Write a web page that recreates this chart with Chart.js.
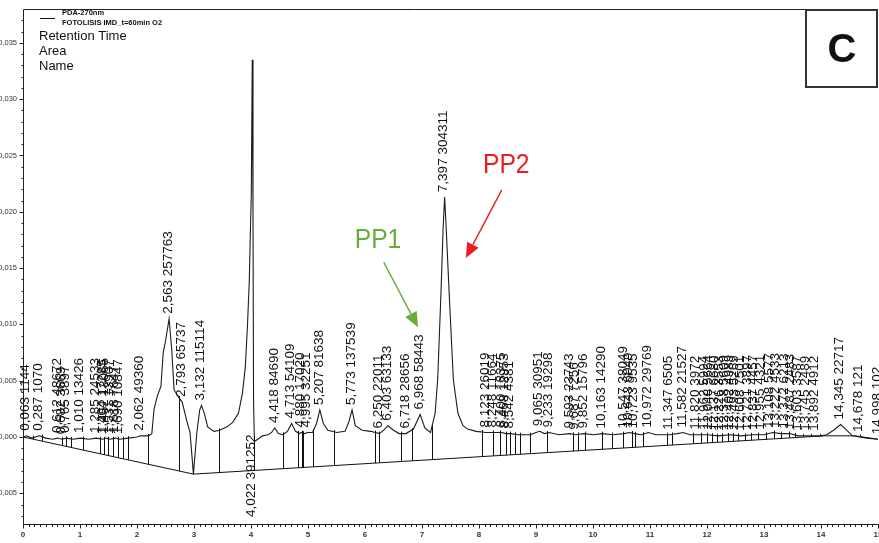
<!DOCTYPE html>
<html>
<head>
<meta charset="utf-8">
<script src="https://cdn.jsdelivr.net/npm/chart.js@4.4.0/dist/chart.umd.min.js"></script>
<style>
    html, body { margin: 0; padding: 0; background: #fff; }
    #wrap { width: 879px; height: 543px; }
</style>
</head>
<body>
<div id="wrap"><canvas id="cromChart" width="879" height="543"></canvas></div>
<script>
// ========== Datos del cromatograma ==========
// tiempo de retención (min) y absorbancia (AU) del trazo PDA-270nm
const traceTime = [
    0.000, 0.063, 0.150, 0.287, 0.400, 0.520, 0.612, 0.682, 0.765, 0.880,
    1.010, 1.150, 1.285, 1.404, 1.452, 1.531, 1.618, 1.690, 1.850, 2.000,
    2.062, 2.200, 2.260, 2.300, 2.360, 2.420, 2.460, 2.500, 2.563, 2.610,
    2.650, 2.720, 2.793, 2.870, 2.930, 2.990, 3.050, 3.100, 3.132, 3.180,
    3.240, 3.350, 3.450, 3.580, 3.680, 3.780, 3.850, 3.900, 3.940, 3.970,
    3.990, 4.005, 4.022, 4.035, 4.045, 4.060, 4.120, 4.200, 4.300, 4.360,
    4.418, 4.480, 4.560, 4.640, 4.713, 4.780, 4.850, 4.880, 4.940, 4.995,
    5.080, 5.150, 5.207, 5.270, 5.350, 5.500, 5.650, 5.720, 5.773, 5.830,
    5.950, 6.100, 6.250, 6.330, 6.403, 6.500, 6.600, 6.718, 6.850, 6.968,
    7.050, 7.150, 7.230, 7.275, 7.330, 7.370, 7.397, 7.425, 7.480, 7.550,
    7.630, 7.720, 7.800, 7.950, 8.123, 8.248, 8.400, 8.468, 8.542, 8.700,
    8.900, 9.000, 9.065, 9.150, 9.233, 9.400, 9.593, 9.687, 9.852, 10.000,
    10.163, 10.350, 10.547, 10.643, 10.723, 10.850, 10.972, 11.100, 11.347, 11.480,
    11.582, 11.700, 11.820, 12.000, 12.200, 12.400, 12.600, 12.800, 13.000, 13.150,
    13.300, 13.450, 13.600, 13.800, 14.000, 14.100, 14.220, 14.345, 14.450, 14.550,
    14.678, 14.800, 14.998, 15.000
];
const traceAbs = [
    0.0000, 0.0001, -0.0001, 0.0001, -0.0001, -0.0002, -0.0001, -0.0002, -0.0001, -0.0002,
    -0.0001, -0.0002, -0.0001, -0.0002, -0.0001, -0.0002, -0.0001, -0.0002, -0.0001, 0.0000,
    0.0001, 0.0001, 0.0003, 0.0025, 0.0037, 0.0045, 0.0075, 0.0085, 0.0105, 0.0077,
    0.0042, 0.0036, 0.0031, 0.0015, 0.0004, -0.0033, 0.0004, 0.0024, 0.0028, 0.0021,
    0.0009, 0.0005, 0.0006, 0.0009, 0.0013, 0.0021, 0.0039, 0.0062, 0.0101, 0.0139,
    0.0184, 0.0215, 0.0335, 0.0200, 0.0030, -0.0004, -0.0002, 0.0001, 0.0002, 0.0004,
    0.0008, 0.0003, 0.0002, 0.0005, 0.0012, 0.0005, 0.0003, 0.0004, 0.0003, 0.0004,
    0.0004, 0.0012, 0.0024, 0.0012, 0.0006, 0.0004, 0.0005, 0.0014, 0.0024, 0.0010,
    0.0006, 0.0005, 0.0003, 0.0006, 0.0010, 0.0006, 0.0003, 0.0003, 0.0007, 0.0020,
    0.0008, 0.0004, 0.0021, 0.0051, 0.0124, 0.0185, 0.0213, 0.0185, 0.0124, 0.0051,
    0.0021, 0.0010, 0.0007, 0.0005, 0.0004, 0.0004, 0.0004, 0.0003, 0.0003, 0.0002,
    0.0002, 0.0004, 0.0005, 0.0003, 0.0004, 0.0002, 0.0003, 0.0002, 0.0003, 0.0002,
    0.0003, 0.0002, 0.0003, 0.0004, 0.0003, 0.0002, 0.0004, 0.0002, 0.0002, 0.0003,
    0.0004, 0.0002, 0.0002, 0.0002, 0.0001, 0.0002, 0.0001, 0.0002, 0.0002, 0.0004,
    0.0003, 0.0003, 0.0001, 0.0001, 0.0001, 0.0002, 0.0006, 0.0011, 0.0006, 0.0001,
    0.0000, -0.0001, -0.0002, -0.0002
];

// línea base de integración
const baseTime = [0, 2.99, 14.05, 14.6, 15];
const baseAbs = [0.0000, -0.0033, 0.0001, 0.0001, -0.0002];

// límites de integración (líneas verticales)
const dropTimes = [
    0.17, 0.33, 0.68, 0.75, 0.85, 1.06, 1.35, 1.42, 1.49, 1.58, 1.67, 1.75, 1.84,
    2.19, 2.74, 2.99, 3.43, 4.06, 4.57, 4.83, 4.89, 4.92, 5.09, 5.46, 6.18, 6.25,
    6.63, 6.82, 7.17, 8.05, 8.24, 8.36, 8.47, 8.54, 8.63, 8.72, 8.89, 9.19, 9.65,
    9.74, 9.86, 10.15, 10.33, 10.53, 10.68, 10.74, 10.88, 11.29, 11.38, 11.76, 11.90,
    12.00, 12.09, 12.18, 12.27, 12.36, 12.45, 12.55, 12.66, 12.78, 12.90, 13.03,
    13.17, 13.30, 13.43, 13.55, 13.68, 13.82, 13.98, 14.68
];

// picos: tiempo de retención y área
const peakTimes = [
    0.063, 0.287, 0.612, 0.682, 0.765, 1.010, 1.285, 1.404, 1.452, 1.531, 1.618, 1.690,
    2.062, 2.563, 2.793, 3.132, 4.022, 4.418, 4.713, 4.880, 4.995, 5.207, 5.773, 6.250,
    6.403, 6.718, 6.968, 7.397, 8.123, 8.248, 8.400, 8.468, 8.542, 9.065, 9.233, 9.593,
    9.687, 9.852, 10.163, 10.547, 10.643, 10.723, 10.972, 11.347, 11.582, 11.820, 11.962,
    12.048, 12.137, 12.226, 12.318, 12.402, 12.493, 12.608, 12.721, 12.837, 12.955, 13.108,
    13.222, 13.372, 13.487, 13.603, 13.745, 13.892, 14.345, 14.678, 14.998
];
const peakAreas = [
    1144, 1070, 48672, 3669, 3897, 13426, 24533, 17285, 13065, 13907, 7647, 10847,
    49360, 257763, 65737, 115114, 391252, 84690, 54109, 17020, 32251, 81638, 137539, 22011,
    63133, 28656, 58443, 304311, 26019, 11664, 18375, 12953, 4381, 30951, 19298, 23743,
    7256, 15796, 14290, 38049, 6049, 9535, 29769, 6505, 21527, 3972, 5994,
    5664, 6680, 3553, 5609, 4989, 5269, 7501, 3897, 4457, 4321, 5577,
    4533, 6213, 2483, 3587, 2489, 4912, 22717, 121, 102
];
// pico cuya etiqueta va debajo de la línea base
const peakBelow = [4.022];

// ejes
const xTicks = [0, 1, 2, 3, 4, 5, 6, 7, 8, 9, 10, 11, 12, 13, 14, 15];
const yTicks = [-0.005, 0.000, 0.005, 0.010, 0.015, 0.020, 0.025, 0.030, 0.035];
const X_MIN = 0, X_MAX = 15;
const Y_MIN = -0.00773, Y_MAX = 0.03801;

// flechas de anotación (coordenadas en min / AU)
const notes = [
    { text: 'PP1', color: '#6aac3c', textAt: [5.82, 0.01680], from: [6.33, 0.01550], to: [6.93, 0.00975] },
    { text: 'PP2', color: '#ec1c24', textAt: [8.07, 0.02345], from: [8.40, 0.02195], to: [7.77, 0.01590] }
];

const FONT = '"Liberation Sans", Arial, sans-serif';

/**
 * valor en t interpolando linealmente entre puntos
 */
function valueAt(xs, ys, t) {
    if (t <= xs[0]) return ys[0];
    for (let i = 1; i < xs.length; i++) {
        if (t <= xs[i]) {
            const f = (t - xs[i - 1]) / (xs[i] - xs[i - 1]);
            return ys[i - 1] + f * (ys[i] - ys[i - 1]);
        }
    }
    return ys[ys.length - 1];
}

function fmtComma(v, d) {
    return v.toFixed(d).replace('.', ',');
}

function drawArrow(ctx, x1, y1, x2, y2, color) {
    const ang = Math.atan2(y2 - y1, x2 - x1);
    const len = 15, half = 6.5;
    const bx = x2 - len * Math.cos(ang), by = y2 - len * Math.sin(ang);
    ctx.strokeStyle = color;
    ctx.fillStyle = color;
    ctx.lineWidth = 1.4;
    ctx.beginPath();
    ctx.moveTo(x1, y1);
    ctx.lineTo(bx, by);
    ctx.stroke();
    ctx.beginPath();
    ctx.moveTo(x2, y2);
    ctx.lineTo(bx + half * Math.sin(ang), by - half * Math.cos(ang));
    ctx.lineTo(bx - half * Math.sin(ang), by + half * Math.cos(ang));
    ctx.closePath();
    ctx.fill();
}

// fondo blanco
const bgPlugin = {
    id: 'bg',
    beforeDraw(chart) {
        const ctx = chart.ctx;
        ctx.save();
        ctx.fillStyle = '#fff';
        ctx.fillRect(0, 0, chart.width, chart.height);
        ctx.restore();
    }
};

// ejes, integración, etiquetas y recuadros
const cromPlugin = {
    id: 'crom',
    afterDatasetsDraw(chart) {
        const ctx = chart.ctx;
        const xs = chart.scales.x, ys = chart.scales.y;
        const area = chart.chartArea;
        const L = Math.round(area.left) + 0.5;
        const B = Math.round(area.bottom) + 0.5;
        const T = Math.round(area.top) + 0.5;
        ctx.save();

        // líneas verticales de integración
        ctx.strokeStyle = '#111';
        ctx.lineWidth = 1;
        dropTimes.forEach(t => {
            const px = Math.round(xs.getPixelForValue(t)) + 0.5;
            const yb = ys.getPixelForValue(valueAt(baseTime, baseAbs, t));
            const yt = ys.getPixelForValue(valueAt(traceTime, traceAbs, t));
            ctx.beginPath();
            ctx.moveTo(px, yb);
            ctx.lineTo(px, Math.min(yb, yt) - 2);
            ctx.stroke();
        });

        // marco y ejes
        ctx.strokeStyle = '#222';
        ctx.beginPath();
        ctx.moveTo(L, T);
        ctx.lineTo(L, B);
        ctx.lineTo(area.right + 1, B);
        ctx.moveTo(L, T);
        ctx.lineTo(806, T);
        ctx.stroke();

        // marcas del eje Y
        ctx.beginPath();
        for (let k = -7; k <= 37; k++) {
            const y = Math.round(ys.getPixelForValue(k / 1000)) + 0.5;
            const major = k % 5 === 0;
            ctx.moveTo(L - (major ? 4 : 2), y);
            ctx.lineTo(L, y);
        }
        // marcas del eje X
        for (let k = 0; k <= 150; k++) {
            const x = Math.round(xs.getPixelForValue(k / 10)) + 0.5;
            const major = k % 10 === 0;
            ctx.moveTo(x, B);
            ctx.lineTo(x, B + (major ? 4 : 2.5));
        }
        ctx.stroke();

        ctx.fillStyle = '#333';
        ctx.font = '7.5px ' + FONT;
        ctx.textAlign = 'right';
        ctx.textBaseline = 'middle';
        yTicks.forEach(v => {
            ctx.fillText(fmtComma(v, 3), 17, ys.getPixelForValue(v));
        });
        ctx.font = 'bold 8px ' + FONT;
        ctx.textAlign = 'center';
        xTicks.forEach(v => {
            ctx.fillText(String(v), xs.getPixelForValue(v), 535);
        });

        // etiquetas de picos (tiempo + área), verticales
        ctx.fillStyle = '#111';
        ctx.font = '13.5px ' + FONT;
        ctx.textAlign = 'left';
        ctx.textBaseline = 'middle';
        peakTimes.forEach((t, i) => {
            const label = fmtComma(t, 3) + ' ' + peakAreas[i];
            const px = xs.getPixelForValue(t) - 1;
            let py;
            if (peakBelow.includes(t)) {
                py = area.bottom - 7;
            } else {
                py = ys.getPixelForValue(valueAt(traceTime, traceAbs, t)) - 5;
            }
            ctx.save();
            ctx.translate(px, py);
            ctx.rotate(-Math.PI / 2);
            ctx.fillText(label, 0, 0);
            ctx.restore();
        });

        // leyenda
        ctx.strokeStyle = '#111';
        ctx.beginPath();
        ctx.moveTo(40, 18.5);
        ctx.lineTo(55, 18.5);
        ctx.stroke();
        ctx.fillStyle = '#111';
        ctx.font = 'bold 7.5px ' + FONT;
        ctx.textAlign = 'left';
        ctx.fillText('PDA-270nm', 62, 13);
        ctx.fillText('FOTOLISIS IMD_t=60min O2', 62, 23);
        ctx.font = '13px ' + FONT;
        ctx.fillText('Retention Time', 39, 36);
        ctx.fillText('Area', 39, 51);
        ctx.fillText('Name', 39, 66);

        // recuadro del panel
        ctx.fillStyle = '#fff';
        ctx.fillRect(806, 10, 71, 77);
        ctx.strokeStyle = '#333';
        ctx.lineWidth = 2;
        ctx.strokeRect(806, 10, 71, 77);
        ctx.fillStyle = '#111';
        ctx.font = 'bold 40px ' + FONT;
        ctx.textAlign = 'center';
        ctx.fillText('C', 842, 51);

        // anotaciones PP1 / PP2 (texto algo estrecho y alto)
        notes.forEach(n => {
            ctx.save();
            ctx.translate(xs.getPixelForValue(n.textAt[0]), ys.getPixelForValue(n.textAt[1]));
            ctx.scale(0.88, 1);
            ctx.font = '28px ' + FONT;
            ctx.textAlign = 'left';
            ctx.textBaseline = 'alphabetic';
            ctx.fillStyle = n.color;
            ctx.fillText(n.text, 0, 0);
            ctx.restore();
            drawArrow(ctx,
                xs.getPixelForValue(n.from[0]), ys.getPixelForValue(n.from[1]),
                xs.getPixelForValue(n.to[0]), ys.getPixelForValue(n.to[1]), n.color);
        });

        ctx.restore();
    }
};

/**
 * gráfico principal
 */
function initChart() {
    const ctx = document.getElementById('cromChart').getContext('2d');
    new Chart(ctx, {
        type: 'scatter',
        data: {
            datasets: [
                {
                    label: 'PDA-270nm',
                    data: traceTime.map((t, i) => ({ x: t, y: traceAbs[i] })),
                    showLine: true,
                    borderColor: '#1c1c1c',
                    borderWidth: 1.1,
                    pointRadius: 0,
                    tension: 0
                },
                {
                    label: 'Línea base',
                    data: baseTime.map((t, i) => ({ x: t, y: baseAbs[i] })),
                    showLine: true,
                    borderColor: '#111',
                    borderWidth: 1,
                    pointRadius: 0,
                    tension: 0
                }
            ]
        },
        options: {
            responsive: false,
            animation: false,
            layout: { padding: { left: 23, top: 9, right: 1, bottom: 19 } },
            plugins: {
                legend: { display: false },
                tooltip: { enabled: false }
            },
            scales: {
                x: { type: 'linear', min: X_MIN, max: X_MAX, display: false },
                y: { type: 'linear', min: Y_MIN, max: Y_MAX, display: false }
            }
        },
        plugins: [bgPlugin, cromPlugin]
    });
}

initChart();
</script>
</body>
</html>
